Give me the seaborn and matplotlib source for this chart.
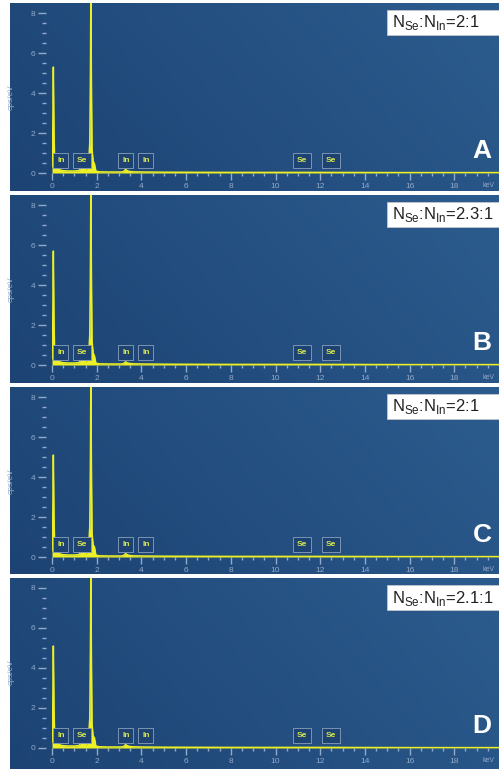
import numpy as np
import matplotlib
matplotlib.use('Agg')
import matplotlib.pyplot as plt
from matplotlib.patches import Rectangle
import seaborn as sns

# energy grid (keV) shared by the four spectra
energy = [0.00, 0.03, 0.06, 0.09, 0.12, 0.16, 0.22, 0.30, 0.45, 0.70, 1.00, 1.20, 1.30,
          1.36, 1.40, 1.44, 1.50, 1.58, 1.64, 1.69, 1.72, 1.74, 1.76, 1.79, 1.84, 1.90,
          1.96, 2.10, 2.50, 3.10, 3.22, 3.29, 3.36, 3.45, 3.60, 4.00, 5.00, 8.00, 12.00,
          16.00, 20.00]

# counts (cps/eV)
cps_A = [0.30, 1.50, 5.30, 2.00, 0.60, 0.35, 0.25, 0.18, 0.12, 0.10, 0.10, 0.12, 0.25,
         0.50, 0.45, 0.25, 0.15, 0.20, 0.50, 1.50, 5.00, 9.50, 5.00, 1.20, 0.60, 0.45,
         0.10, 0.06, 0.05, 0.05, 0.08, 0.18, 0.12, 0.08, 0.06, 0.05, 0.04, 0.03, 0.03,
         0.02, 0.02]
cps_B = [0.30, 1.60, 5.70, 2.10, 0.60, 0.35, 0.25, 0.18, 0.12, 0.10, 0.10, 0.12, 0.25,
         0.55, 0.48, 0.25, 0.15, 0.20, 0.50, 1.50, 5.00, 9.50, 5.00, 1.20, 0.60, 0.45,
         0.10, 0.06, 0.05, 0.05, 0.08, 0.16, 0.11, 0.08, 0.06, 0.05, 0.04, 0.03, 0.03,
         0.02, 0.02]
cps_C = [0.30, 1.40, 5.10, 1.90, 0.60, 0.35, 0.25, 0.18, 0.12, 0.10, 0.10, 0.12, 0.25,
         0.50, 0.45, 0.25, 0.15, 0.20, 0.55, 1.50, 5.00, 9.50, 5.00, 1.20, 0.60, 0.50,
         0.10, 0.06, 0.05, 0.05, 0.08, 0.17, 0.12, 0.08, 0.06, 0.05, 0.04, 0.03, 0.03,
         0.02, 0.02]
cps_D = [0.30, 1.40, 5.10, 1.90, 0.60, 0.35, 0.25, 0.18, 0.12, 0.10, 0.10, 0.12, 0.25,
         0.45, 0.42, 0.25, 0.15, 0.20, 0.55, 1.50, 5.00, 9.50, 5.00, 1.20, 0.60, 0.50,
         0.10, 0.06, 0.05, 0.05, 0.08, 0.17, 0.12, 0.08, 0.06, 0.05, 0.04, 0.03, 0.03,
         0.02, 0.02]

panel_letters = ['A', 'B', 'C', 'D']
ratio_labels = ['2:1', '2.3:1', '2:1', '2.1:1']
spectra = [cps_A, cps_B, cps_C, cps_D]

# element markers
elem_names = ['In', 'Se', 'In', 'In', 'Se', 'Se']
elem_energy = [0.40, 1.35, 3.30, 4.20, 11.20, 12.50]
elem_height = 0.62

x_ticks = [0, 2, 4, 6, 8, 10, 12, 14, 16, 18]
y_ticks = [0, 2, 4, 6, 8]

sns.set_theme(style='white')
plt.rcParams['font.family'] = ['Liberation Sans', 'DejaVu Sans']
plt.rcParams['mathtext.fontset'] = 'custom'
plt.rcParams['mathtext.rm'] = 'Liberation Sans'

W, H = 499, 769
fig = plt.figure(figsize=(W / 100, H / 100), dpi=100)
fig.patch.set_facecolor('white')

panel_top = [3, 195, 387, 578]
panel_bot = [191, 383, 574, 769]

yellow = '#eef026'
tick_col = '#93aacb'

# background gradient (dark blue, lighter to the right)
gx = np.linspace(0, 1, 200)
gy = np.linspace(0, 1, 60)
GX, GY = np.meshgrid(gx, gy)
c0 = np.array([0x1c, 0x43, 0x73]) / 255
c1 = np.array([0x2c, 0x5c, 0x8e]) / 255
t = np.clip(0.75 * GX + 0.25 * GY, 0, 1)[..., None]
grad = c0 * (1 - t) + c1 * t

for i in range(4):
    top, bot = panel_top[i], panel_bot[i]
    bg = fig.add_axes([10 / W, 1 - bot / H, (W - 10) / W, (bot - top) / H])
    bg.imshow(grad, aspect='auto', extent=[0, 1, 0, 1], origin='lower')
    bg.set_axis_off()

    ax = fig.add_axes([52 / W, 1 - (top + 170) / H, (W - 52) / W, 170 / H])
    ax.set_facecolor('none')
    sns.lineplot(x=energy, y=spectra[i], ax=ax, color=yellow, lw=1.1)
    ax.fill_between(energy, spectra[i], color=yellow, lw=0)
    ax.set_xlim(0, 20)
    ax.set_ylim(0, 8.5)

    for sp in ['top', 'right', 'bottom']:
        ax.spines[sp].set_visible(False)
    ax.spines['left'].set_position(('outward', 4))
    ax.spines['left'].set_color('none')

    ax.set_xticks(x_ticks)
    ax.set_xticks(np.arange(0, 20, 0.5), minor=True)
    ax.set_yticks(y_ticks)
    ax.set_yticks(np.arange(0, 8.5, 0.5), minor=True)
    ax.tick_params(axis='x', which='major', direction='out', length=5, width=1,
                   color=tick_col, labelcolor=tick_col, labelsize=6, pad=2, bottom=True)
    ax.tick_params(axis='x', which='minor', direction='out', length=2.5, width=1,
                   color=tick_col, bottom=True)
    ax.tick_params(axis='y', which='major', direction='out', length=6, width=1,
                   color=tick_col, labelcolor=tick_col, labelsize=6, pad=2, left=True)
    ax.tick_params(axis='y', which='minor', direction='out', length=3, width=1,
                   color=tick_col, left=True)
    ax.text(19.25, -0.62, 'keV', color=tick_col, fontsize=5, va='center', ha='left',
            clip_on=False)

    ax.set_ylabel('cps/eV', color=tick_col, fontsize=6)
    ax.yaxis.set_label_coords(-(52 - 15) / (W - 52), (170 - 94) / 170)

    for name, e in zip(elem_names, elem_energy):
        ax.text(e, elem_height, name, color='#d9ea4a', fontsize=6, fontweight='bold',
                ha='center', va='center',
                bbox=dict(boxstyle='square,pad=0.45', fc='#1e4372', ec='#8aa0bf', lw=0.6))

    # ratio box
    fig.patches.append(Rectangle((387 / W, 1 - (top + 32) / H), (W - 387) / W, 25 / H,
                                 transform=fig.transFigure, fc='white', ec='#cccccc',
                                 lw=0.5, zorder=5))
    fig.text(392 / W, 1 - (top + 20) / H,
             r'N$_{\mathrm{Se}}$:N$_{\mathrm{In}}$=' + ratio_labels[i],
             fontsize=12, color='#222222', va='center', ha='left', zorder=6)

    fig.text(482 / W, 1 - (top + 148) / H, panel_letters[i], fontsize=19,
             fontweight='bold', color='white', ha='center', va='center')

fig.savefig('out.png', dpi=100)
